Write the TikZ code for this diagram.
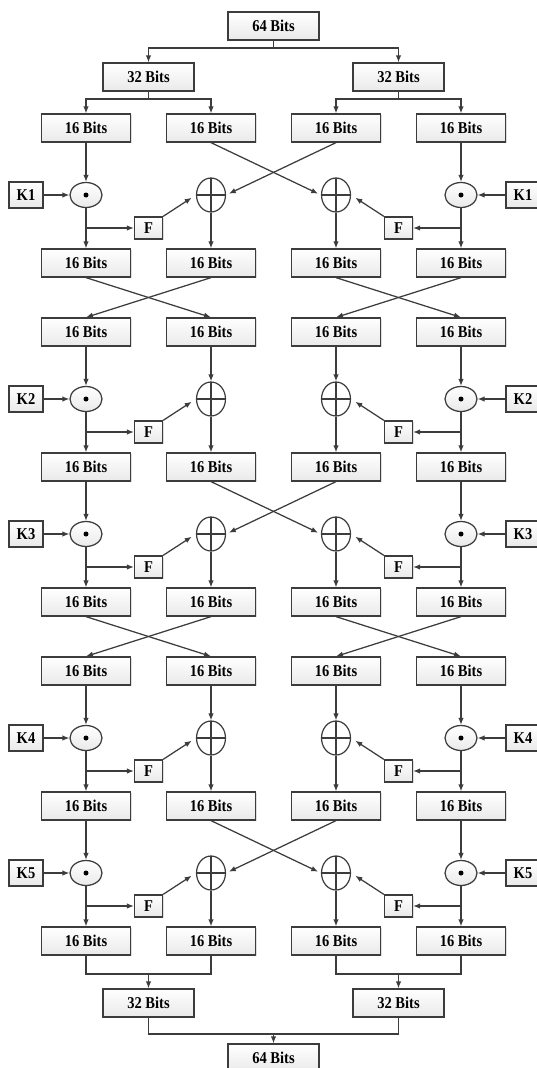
\documentclass[tikz,border=0pt]{standalone}
\usepackage{fontspec}
\setmainfont{Liberation Serif}[FakeStretch=0.88]
\usetikzlibrary{arrows.meta,shapes.geometric,shadows}
\definecolor{linec}{HTML}{3C3C3C}
\begin{document}
\begin{tikzpicture}[x=1pt,y=-1pt,
  lbl/.style={font=\bfseries\fontsize{16.5}{17}\selectfont},
  shd/.style={drop shadow={opacity=0.25,shadow xshift=1.3pt,shadow yshift=-1.3pt}},
  bx/.style={lbl,shd,draw=linec,line width=1.25pt,top color=white,bottom color=gray!17,
    minimum width=89pt,minimum height=28pt,inner sep=0pt},
  wbx/.style={bx,minimum width=91pt},
  kbox/.style={bx,minimum width=34pt,minimum height=26pt},
  fbox/.style={bx,minimum width=28pt,minimum height=22pt},
  dotop/.style={ellipse,draw=linec,line width=1.25pt,top color=white,bottom color=gray!17,
    minimum width=32pt,minimum height=25pt,inner sep=0pt,
    path picture={\fill[black] (path picture bounding box.center) circle (2.5pt);}},
  xorop/.style={ellipse,draw=linec,line width=1.2pt,fill=white,
    minimum width=29pt,minimum height=34pt,inner sep=0pt,
    path picture={\draw[linec,line width=1.2pt] (path picture bounding box.north) -- (path picture bounding box.south)
      (path picture bounding box.west) -- (path picture bounding box.east);}},
  ln/.style={draw=linec,line width=1.25pt},
  arr/.style={ln,-{Latex[length=7pt,width=5.5pt]}}
]
\useasboundingbox (0,0) rectangle (536,1068);

% top
\node[wbx] (T64) at (273.5,26) {64 Bits};
\node[wbx] (TL32) at (148.5,77) {32 Bits};
\node[wbx] (TR32) at (398.5,77) {32 Bits};

% 16-bit rows
\foreach \r/\y in {A/128,B/263,C/332,D/467,E/602,F/671,G/806,H/941}{
  \foreach \c/\x in {1/86,2/211,3/336,4/461}{
    \node[bx] (\r\c) at (\x,\y) {16 Bits};
  }
}

% bottom
\node[wbx] (BL32) at (148.5,1003) {32 Bits};
\node[wbx] (BR32) at (398.5,1003) {32 Bits};
\node[wbx] (B64) at (273.5,1058) {64 Bits};

% top splits
\coordinate (j0) at (273.5,48);
\draw[ln] (T64.south) -- (j0);
\draw[arr] (j0) -| (TL32.north);
\draw[arr] (j0) -| (TR32.north);
\coordinate (jl) at (148.5,99);
\coordinate (jr) at (398.5,99);
\draw[ln] (TL32.south) -- (jl);
\draw[ln] (TR32.south) -- (jr);
\draw[arr] (jl) -| (A1.north);
\draw[arr] (jl) -| (A2.north);
\draw[arr] (jr) -| (A3.north);
\draw[arr] (jr) -| (A4.north);

% rounds
\foreach \n/\ii/\oo/\y/\f/\cr in {1/A/B/195/228/1,2/C/D/399/432/0,3/D/E/534/567/1,4/F/G/738/771/0,5/G/H/873/906/1}{
  \node[kbox] (KL\n) at (26,\y) {K\n};
  \node[kbox] (KR\n) at (523,\y) {K\n};
  \node[dotop] (DL\n) at (86,\y) {};
  \node[dotop] (DR\n) at (461,\y) {};
  \node[xorop] (XL\n) at (211,\y) {};
  \node[xorop] (XR\n) at (336,\y) {};
  \node[fbox] (FL\n) at (148.5,\f) {F};
  \node[fbox] (FR\n) at (398.5,\f) {F};
  \coordinate (BL\n) at (86,\f);
  \coordinate (BR\n) at (461,\f);
  \draw[arr] (\ii1.south) -- (DL\n.north);
  \draw[arr] (\ii4.south) -- (DR\n.north);
  \draw[arr] (KL\n.east) -- (DL\n.west);
  \draw[arr] (KR\n.west) -- (DR\n.east);
  \draw[arr] (DL\n.south) -- (\oo1.north);
  \draw[arr] (DR\n.south) -- (\oo4.north);
  \draw[arr] (BL\n) -- (FL\n.west);
  \draw[arr] (BR\n) -- (FR\n.east);
  \draw[arr,shorten >=5pt] (FL\n.north east) -- (XL\n.west);
  \draw[arr,shorten >=5pt] (FR\n.north west) -- (XR\n.east);
  \draw[arr] (XL\n.south) -- (\oo2.north);
  \draw[arr] (XR\n.south) -- (\oo3.north);
  \ifnum\cr=1
    \draw[arr,shorten >=3pt] (\ii2.south) -- (XR\n.west);
    \draw[arr,shorten >=3pt] (\ii3.south) -- (XL\n.east);
  \else
    \draw[arr] (\ii2.south) -- (XL\n.north);
    \draw[arr] (\ii3.south) -- (XR\n.north);
  \fi
}

% swaps within halves
\foreach \ii/\oo in {B/C,E/F}{
  \draw[arr] (\ii1.south) -- (\oo2.north);
  \draw[arr] (\ii2.south) -- (\oo1.north);
  \draw[arr] (\ii3.south) -- (\oo4.north);
  \draw[arr] (\ii4.south) -- (\oo3.north);
}

% bottom joins
\coordinate (kl) at (148.5,974);
\coordinate (kr) at (398.5,974);
\draw[ln] (H1.south) |- (kl) -| (H2.south);
\draw[ln] (H3.south) |- (kr) -| (H4.south);
\draw[arr] (kl) -- (BL32.north);
\draw[arr] (kr) -- (BR32.north);
\coordinate (k0) at (273.5,1034);
\draw[ln] (BL32.south) |- (k0) -| (BR32.south);
\draw[arr] (k0) -- (B64.north);
\end{tikzpicture}
\end{document}
